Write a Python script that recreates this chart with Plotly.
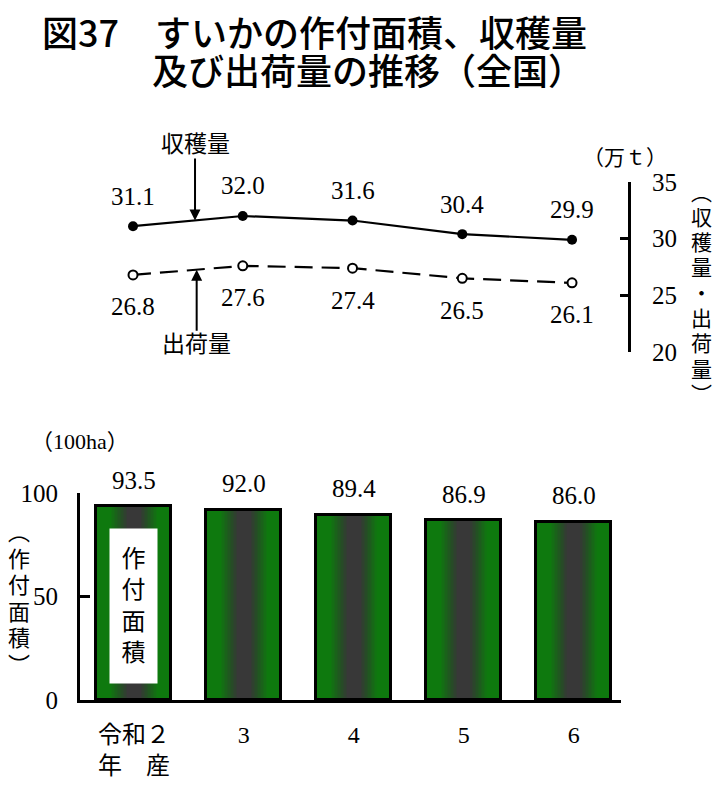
import plotly.graph_objects as go

# data
years = ["令和２<br>年　産", "3", "4", "5", "6"]
harvest = [31.1, 32.0, 31.6, 30.4, 29.9]      # 収穫量 (万t)
shipment = [26.8, 27.6, 27.4, 26.5, 26.1]     # 出荷量 (万t)
area = [93.5, 92.0, 89.4, 86.9, 86.0]         # 作付面積 (100ha)

# page body has an 8px margin, so the figure is 16px smaller than the window
PAD = 8
W, H = 721 - 2 * PAD, 790 - 2 * PAD
FONT = "Liberation Serif, Noto Sans CJK JP"
GOTHIC = "Noto Sans CJK JP"
GREEN = "#0e790e"


def px(x):
    return (x - PAD) / W


def py(y):
    return 1 - (y - PAD) / H


fig = go.Figure()

# top chart: lines
fig.add_trace(go.Scatter(
    x=years, y=harvest, mode="lines+markers",
    line=dict(color="black", width=2.2),
    marker=dict(size=10, color="black"),
    xaxis="x", yaxis="y",
))
fig.add_trace(go.Scatter(
    x=years, y=shipment, mode="lines+markers",
    line=dict(color="black", width=2.2, dash="18px,9px"),
    marker=dict(size=9, color="white", line=dict(color="black", width=2)),
    xaxis="x", yaxis="y",
))

# bottom chart: bars (green base + dark centre layers -> horizontal gradient)
bw = 0.68
fig.add_trace(go.Bar(x=years, y=area, width=bw, marker=dict(color=GREEN, line=dict(width=0)),
                     xaxis="x2", yaxis="y2"))
n_layers = 12
for k in range(n_layers):
    w = bw * (0.62 - 0.44 * k / (n_layers - 1))
    a = 1.0 / (n_layers - k)
    fig.add_trace(go.Bar(x=years, y=area, width=w,
                         marker=dict(color=f"rgba(56,56,56,{a:.3f})", line=dict(width=0)),
                         xaxis="x2", yaxis="y2"))
fig.add_trace(go.Bar(x=years, y=area, width=bw,
                     marker=dict(color="rgba(0,0,0,0)", line=dict(color="black", width=3)),
                     xaxis="x2", yaxis="y2"))

ann = []

# title
ann.append(dict(x=px(40), y=py(31), xref="paper", yref="paper", xanchor="left", yanchor="middle",
                text="図37　すいかの作付面積、収穫量", showarrow=False, height=38,
                font=dict(family=GOTHIC, size=36, color="black", weight=500)))
ann.append(dict(x=px(150), y=py(69), xref="paper", yref="paper", xanchor="left", yanchor="middle",
                text="及び出荷量の推移（全国）", showarrow=False, height=38,
                font=dict(family=GOTHIC, size=36, color="black", weight=500)))

# value labels on lines
for i, v in enumerate(harvest):
    ann.append(dict(x=i, y=v, xref="x", yref="y", text=f"{v:.1f}", showarrow=False,
                    yshift=30, font=dict(family=FONT, size=25, color="black")))
for i, v in enumerate(shipment):
    ann.append(dict(x=i, y=v, xref="x", yref="y", text=f"{v:.1f}", showarrow=False,
                    yshift=-32, font=dict(family=FONT, size=25, color="black")))

# series arrows
ann.append(dict(x=0.565, y=31.6, xref="x", yref="y", text="収穫量", showarrow=True,
                ax=0, ay=-76, arrowhead=2, arrowsize=1.1, arrowwidth=2, arrowcolor="black",
                font=dict(family=FONT, size=23, color="black")))
ann.append(dict(x=0.58, y=27.25, xref="x", yref="y", text="出荷量", showarrow=True,
                ax=0, ay=75, arrowhead=2, arrowsize=1.1, arrowwidth=2, arrowcolor="black",
                font=dict(family=FONT, size=23, color="black")))


def label(text, x, y, size, family=FONT, height=None):
    ann.append(dict(x=px(x), y=py(y), xref="paper", yref="paper", text=text,
                    xanchor="center", yanchor="middle", showarrow=False, height=height,
                    font=dict(family=family, size=size, color="black")))


# units
label("（万ｔ）", 625, 158, 21)
label("（100ha）", 80, 441, 22)

# vertical axis titles
for i, ch in enumerate("︵収穫量・出荷量︶"):
    label(ch, 701, 190 + i * 25.3, 21, GOTHIC, height=25)
for i, ch in enumerate("︵作付面積︶"):
    label(ch, 19, 530 + i * 26.5, 22, GOTHIC, height=26)

# bar values
for i, v in enumerate(area):
    ann.append(dict(x=i, y=v, xref="x2", yref="y2", text=f"{v:.1f}", showarrow=False,
                    yshift=26, font=dict(family=FONT, size=25, color="black")))

# label box in first bar
ann.append(dict(x=0, y=45.5, xref="x2", yref="y2", text="作<br>付<br>面<br>積",
                showarrow=False, bgcolor="white", width=45, height=152,
                font=dict(family=FONT, size=24, color="black")))

fig.update_layout(
    width=W, height=H,
    margin=dict(l=0, r=0, t=0, b=0),
    paper_bgcolor="white", plot_bgcolor="white",
    showlegend=False, barmode="overlay", bargap=0,
    font=dict(family=FONT, size=25, color="black"),
    annotations=ann,
    xaxis=dict(domain=[px(80), px(628)], range=[-0.483, 4.51], visible=False,
               anchor="y", automargin=False),
    yaxis=dict(domain=[py(352), py(182)], range=[20, 35], side="right", anchor="x",
               tickvals=[20, 25, 30, 35], showline=True, linecolor="black", linewidth=3,
               ticks="inside", ticklen=8, tickwidth=3, tickcolor="black",
               ticklabelstandoff=16, showgrid=False, zeroline=False, automargin=False,
               tickfont=dict(family=FONT, size=25)),
    xaxis2=dict(domain=[px(80), px(621)], range=[-0.49, 4.43], anchor="y2",
                showline=True, linecolor="black", linewidth=3, ticks="", automargin=False,
                ticklabelstandoff=11, showgrid=False, tickfont=dict(family=FONT, size=24)),
    yaxis2=dict(domain=[py(700), py(493)], range=[0, 100], anchor="x2",
                tickvals=[0, 50, 100], showline=True, linecolor="black", linewidth=3,
                ticks="inside", ticklen=10, tickwidth=3, tickcolor="black",
                ticklabelstandoff=14, showgrid=False, zeroline=False, automargin=False,
                tickfont=dict(family=FONT, size=25)),
)

fig.write_html("out.html")
